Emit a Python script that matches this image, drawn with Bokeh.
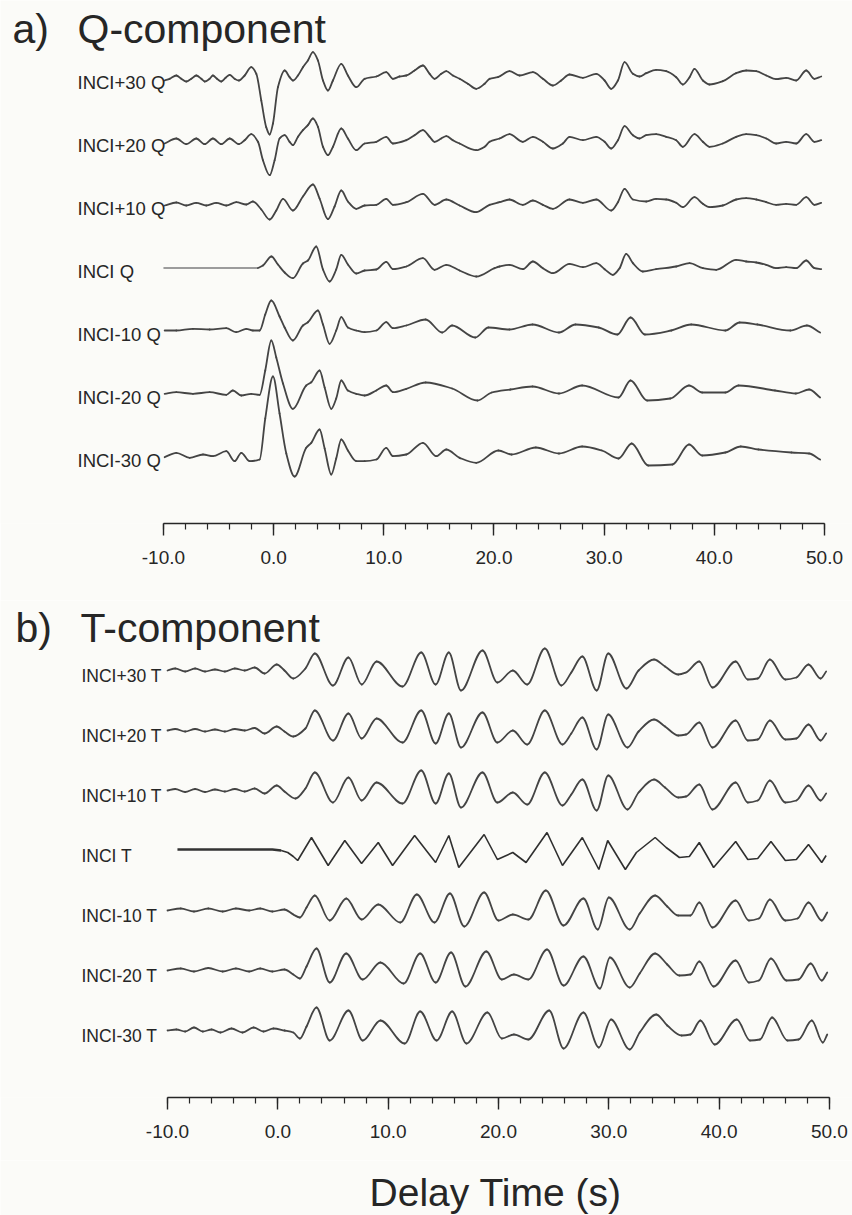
from bokeh.plotting import figure
from bokeh.models import Range1d, FixedTicker, PrintfTickFormatter
from bokeh.layouts import column
from bokeh.embed import file_html
from bokeh.resources import INLINE
from bokeh.core.properties import value

# ---------------- data (time s, relative amplitude) ----------------
Q_LABELS = ["INCI+30 Q", "INCI+20 Q", "INCI+10 Q", "INCI Q", "INCI-10 Q", "INCI-20 Q", "INCI-30 Q"]
T_LABELS = ["INCI+30 T", "INCI+20 T", "INCI+10 T", "INCI T", "INCI-10 T", "INCI-20 T", "INCI-30 T"]
TICKS = [-10, 0, 10, 20, 30, 40, 50]
MINOR_TICKS = [-10, -8, -6, -4, -2, 0, 2, 4, 6, 8, 10, 12, 14, 16, 18, 20, 22, 24, 26, 28, 30,
               32, 34, 36, 38, 40, 42, 44, 46, 48, 50]

Q_P30 = [(-9.89,0),(-9.44,1.7),(-8.83,5),(-8.38,1.7),(-7.93,-1),(-7.47,1.7),(-7.02,5),(-6.56,1.7),(-6.26,-1),
         (-5.81,1.7),(-5.51,5),(-5.14,1.7),(-4.75,-1),(-4.36,2.7),(-3.99,5.7),(-3.54,1.7),(-3.15,0),(-2.63,5),
         (-2.03,13.3),(-1.57,6.7),(-1.12,-20),(-0.67,-46.7),(-0.36,-54),(-0.06,-43),(0.39,-6.7),(1.0,10),
         (1.45,3.3),(1.75,0),(2.21,5),(2.66,13.3),(3.11,20),(3.57,28.3),(4.02,20),(4.48,0),(4.93,-10),(5.38,0),
         (6.14,16.7),(6.74,5),(7.5,-6.7),(8.26,1.7),(9.32,4),(10.22,8.3),(10.83,1.7),(11.43,4),(12.04,5),
         (12.79,10),(13.55,15),(14.16,6.7),(14.61,1.7),(15.21,6.7),(15.67,9.3),(16.27,5),(16.88,1.7),
         (17.63,-3.3),(18.39,-8.3),(19.15,-3.3),(19.6,1.7),(20.36,3.3),(21.41,9.3),(22.32,5),(23.53,8.3),
         (24.44,1.7),(25.35,-5),(26.1,0),(26.86,6),(28.07,2.7),(29.28,6.7),(30.04,0),(30.64,-8.3),(31.25,0),
         (31.85,18.3),(32.61,6.7),(33.21,4),(33.82,7.3),(34.72,10.7),(35.63,9.3),(36.54,3.3),(37.14,-4),
         (37.75,3.3),(38.2,11.7),(38.96,0),(39.56,-4),(40.77,-0.7),(41.98,7.3),(42.89,10),(43.8,9.3),
         (44.71,5),(45.61,1.3),(46.52,2.7),(47.43,0),(48.34,10),(49.09,1.7),(49.7,4)]
Q_P20 = [(-9.89,0),(-8.83,5),(-7.93,-0.7),(-7.02,5),(-6.26,-0.7),(-5.51,5),(-4.75,-0.7),(-3.99,5),(-3.15,-0.7),
         (-2.63,3.3),(-2.03,9.3),(-1.42,1.7),(-0.97,-16.7),(-0.36,-31.7),(0.09,-16.7),(0.54,5),(1.0,8.3),
         (1.45,1.7),(1.75,-1.7),(2.21,6.7),(2.66,13.3),(3.11,18.3),(3.57,25),(4.02,16.7),(4.48,-3.3),
         (4.93,-11.7),(5.38,-3.3),(6.14,15),(6.74,5),(7.5,-6.7),(8.26,0),(9.32,1.7),(10.22,6.7),(10.83,0),
         (12.04,3.3),(12.79,8.3),(13.55,13.3),(14.16,6.7),(14.61,1.7),(15.21,5),(15.67,7.3),(16.27,3.3),
         (16.88,0),(18.39,-6.7),(19.15,-3.3),(19.6,1.7),(20.51,5),(21.41,9.3),(22.62,1.7),(23.53,6.7),
         (24.44,1.7),(25.35,-5),(26.25,0),(26.86,6.7),(28.07,3.3),(29.28,6.7),(30.04,1.7),(30.64,-5),
         (31.25,3.3),(31.85,17.3),(32.61,8.3),(33.21,5),(33.82,8.3),(34.72,9.3),(35.63,6.7),(36.54,3.3),
         (37.14,-3.3),(38.2,9.3),(38.96,1.7),(39.56,-3.3),(40.77,0),(41.98,6.7),(42.89,9.3),(43.8,8.3),
         (44.71,5),(45.61,0),(46.52,1.7),(47.43,0),(48.34,9.3),(49.09,1.7),(49.7,3.3)]
Q_P10 = [(-9.89,1),(-8.83,4),(-7.93,1),(-7.02,3.7),(-6.11,1),(-5.2,3.7),(-4.3,1),(-3.39,4.3),(-2.48,2),
         (-1.88,5),(-1.12,-3),(-0.36,-13),(0.24,-4),(0.85,7.7),(1.75,-4),(2.66,10),(3.57,22),(4.17,8),
         (4.93,-12.7),(5.53,0),(6.14,16),(6.74,5),(7.5,-2.3),(8.26,1),(9.32,1.7),(10.22,7.7),(10.83,1.7),
         (12.04,4.3),(13.55,12.7),(14.61,1.7),(15.67,7),(16.88,1),(18.39,-5.7),(19.6,1.7),(20.51,4.3),
         (21.41,7),(22.62,1.7),(23.53,6),(24.44,1.7),(25.35,-2.3),(26.86,7),(28.07,3.7),(29.28,7),
         (30.64,-4),(31.25,4.3),(31.85,17.7),(32.61,7),(33.82,5),(34.72,7.7),(35.63,7),(36.54,3.7),
         (37.14,-0.7),(38.2,9.3),(38.96,2.7),(39.56,-0.7),(40.77,1),(41.98,7),(42.89,8.3),(43.8,7),
         (44.71,4.3),(45.61,1.7),(46.52,2.7),(47.43,1.7),(48.34,9.3),(49.09,1.7),(49.7,3.7)]
Q_0 = [(-10.0,1.5),(-1.42,1.5),(-0.97,4),(-0.2,13),(0.39,5),(1.0,-3),(1.75,-8.7),(2.66,6),(3.11,9),(3.87,23),
       (4.48,0),(5.08,-12),(5.68,0),(6.14,14.7),(6.74,5),(7.5,-4),(8.26,-1),(9.32,0),(10.22,7.7),(10.83,0.3),
       (12.04,3),(13.55,11.3),(14.61,-0.3),(15.67,4.7),(16.88,-1),(18.39,-7),(20.05,1.3),(20.51,3),(21.41,4.7),
       (22.62,0.3),(23.53,8),(24.44,1.3),(25.35,-3.7),(26.86,5.7),(28.07,2.3),(29.28,6.3),(30.04,0.3),
       (30.79,-5.3),(31.4,1.3),(32.0,15.7),(32.61,6.3),(33.51,-2),(34.72,0.3),(36.54,3),(37.75,6.3),
       (38.96,1.3),(40.17,-0.3),(41.98,9.7),(42.89,8),(43.8,7),(44.71,4.7),(45.61,1.3),(46.52,2.3),
       (47.43,1.3),(48.34,9),(49.09,1.3),(49.7,0.3)]
Q_M10 = [(-9.89,2),(-8.83,2),(-7.32,3.7),(-5.81,3),(-4.3,4.3),(-3.39,0.3),(-2.48,3.7),(-1.88,2),(-1.27,2),
         (-0.76,18),(-0.21,32),(0.54,16),(1.0,5),(1.75,-8),(2.66,7),(3.11,10.3),(4.02,22),(4.48,8),
         (5.08,-11.3),(5.68,2),(6.14,15.3),(6.74,5),(7.5,2),(8.26,0.3),(9.32,2),(10.22,10.3),(10.83,4.3),
         (12.04,7),(13.8,13),(15.3,0),(16.2,7),(18.3,-5),(19.5,5),(21.4,3),(23.5,8),(25.9,0),(27.4,8),
         (29.5,5),(31.2,-2),(32.4,15),(33.7,-2),(36.1,2),(37.9,8),(41.0,2),(42.3,10),(43.9,8),(46.9,2),
         (48.4,7),(49.6,0)]
Q_M20 = [(-9.89,1.7),(-8.83,3.3),(-7.32,1.7),(-5.81,3.3),(-4.3,0.7),(-3.7,5),(-2.93,0),(-2.03,1.7),
         (-1.27,0.7),(-0.76,25),(-0.21,55),(0.24,38),(0.85,12),(1.75,-13.3),(2.96,10),(3.42,13.3),(4.17,25),
         (4.63,8),(5.23,-13.3),(5.68,-3),(6.14,15),(6.74,5),(7.5,1.7),(8.26,0),(9.32,5),(10.22,10),
         (10.83,3.3),(12.04,6.7),(13.8,13),(16.2,7),(18.5,-5),(19.8,3),(21.5,6),(23.5,9),(25.9,2),(28.0,10),
         (31.3,-2),(32.4,15),(33.9,-5),(36.0,-3),(37.7,10),(38.9,3),(41.0,3),(42.2,10),(45.5,5),(47.4,2),
         (48.6,6),(49.6,-2)]
Q_M30 = [(-9.89,1.3),(-8.83,5.7),(-7.62,0.7),(-6.41,4),(-5.51,2.3),(-4.3,7.3),(-3.54,-2.7),(-2.93,5.7),
         (-2.18,-2.7),(-1.27,-1),(-0.76,40),(-0.06,82),(0.54,45),(1.15,5),(1.9,-18),(2.96,10.7),(3.42,15.7),
         (4.17,29),(4.63,10),(5.23,-16),(5.68,0),(6.14,19),(6.74,8),(7.5,-2.7),(8.26,-2.7),(9.32,-1),
         (10.22,10.7),(10.83,2.3),(12.04,4),(13.55,15.7),(14.76,2.3),(15.67,9),(16.88,0.7),(18.39,-4.3),
         (20.4,8),(21.6,4),(23.8,11),(25.9,5),(28.0,12),(29.8,8),(31.3,0),(32.5,15),(34.0,-7),(36.2,-6),
         (37.7,14),(38.9,3),(41.0,6),(42.4,12),(44.0,9),(47.0,6),(48.6,5),(49.6,-1)]

T_P30 = [(-10.0,0),(-9.3,2),(-8.4,-1),(-7.5,2),(-6.6,-1),(-5.7,1),(-4.8,-1),(-3.9,2),(-3.0,0),(-2.1,3),
         (-1.2,-3),(-0.1,6),(0.6,0),(1.4,-8),(2.5,2),(3.35,17),(5.0,-15),(6.4,13),(7.6,-14),(8.95,9),
         (11.3,-16),(13.0,18),(14.3,-14),(15.5,18),(16.6,-20),(18.55,20),(19.9,-12),(21.3,0),(22.6,-14),
         (24.2,22),(25.7,-15),(26.6,-2),(27.6,14),(28.9,-20),(29.95,17),(31.6,-18),(32.7,0),(34.1,11),
         (35.1,4),(36.3,-4),(37.0,-2),(38.2,9),(39.4,-17),(41.5,9),(42.6,-9),(43.5,-8),(44.6,11),(46.0,-9),
         (47.0,-7),(48.1,6),(49.2,-8),(49.7,-1)]
T_P20 = [(-10.0,0),(-9.3,1.5),(-8.4,-1),(-7.5,1.5),(-6.6,-1),(-5.7,1),(-4.8,-1),(-3.9,1.5),(-3.0,0),
         (-2.1,2.5),(-1.2,-3),(-0.1,4),(0.6,-1),(1.4,-6),(2.5,2),(3.35,20),(5.0,-10),(6.4,17),(7.6,-8),
         (8.95,12),(11.3,-12),(13.0,20),(14.3,-13),(15.5,17),(16.6,-17),(18.55,18),(19.9,-12),(21.3,0),
         (22.6,-14),(24.2,20),(25.8,-14),(26.6,-3),(27.6,13),(28.9,-19),(29.95,16),(31.7,-17),(32.7,-1),
         (34.1,11),(35.1,4),(36.3,-5),(37.0,-4),(38.2,8),(39.4,-17),(41.5,10),(42.6,-10),(43.5,-9),
         (44.6,10),(46.0,-9),(47.0,-8),(48.1,6),(49.2,-10),(49.7,-3)]
T_P10 = [(-10.0,0),(-9.3,1.5),(-8.4,-1.5),(-7.5,1.5),(-6.6,-1.5),(-5.7,1),(-4.8,-1),(-3.9,1.5),(-3.0,-1),
         (-2.1,2),(-1.2,-3),(-0.1,5),(0.6,-1),(1.6,-8),(2.5,2),(3.35,18),(5.0,-12),(6.4,13),(7.6,-10),
         (8.95,8),(11.3,-13),(13.0,20),(14.3,-13),(15.5,17),(16.6,-17),(18.55,18),(19.9,-12),(21.3,-2),
         (22.6,-14),(24.2,18),(25.8,-15),(26.6,-4),(27.6,11),(28.9,-20),(29.95,15),(31.7,-19),(32.7,-2),
         (34.1,11),(35.1,3),(36.3,-7),(37.0,-6),(38.2,6),(39.4,-19),(41.5,8),(42.6,-12),(43.5,-10),
         (44.6,10),(46.0,-12),(47.0,-10),(48.1,5),(49.2,-10),(49.7,-3)]
T_0 = [(-9.1,1),(-0.5,1),(0.3,0),(0.9,-2),(1.4,-6),(1.8,-10),(3.05,13),(4.56,-15),(6.07,10),(7.59,-13),
       (9.1,8),(10.4,-15),(12.4,15),(14.3,-12),(15.5,15),(16.4,-17),(18.7,16),(19.9,-9),(21.3,-2),
       (22.5,-12),(24.4,18),(25.8,-15),(27.6,13),(29.1,-19),(29.9,10),(31.5,-19),(32.5,-2),(34.2,13),
       (35.2,3),(36.4,-7),(37.3,-6),(38.2,8),(39.5,-17),(41.5,9),(42.6,-9),(43.5,-8),(44.7,9),(46.0,-10),
       (47.0,-9),(48.1,6),(49.3,-12),(49.7,-5)]
T_M10 = [(-10.0,0),(-8.8,2),(-7.6,-1),(-6.3,2),(-5.0,-1),(-3.8,2),(-2.6,0),(-1.6,2),(-0.5,-1),(0.6,1),
         (1.4,-4),(2.0,-7),(2.6,3),(3.35,15),(4.7,-10),(6.2,12),(7.6,-9),(9.1,6),(11.1,-12),(12.6,16),
         (14.2,-12),(15.6,17),(16.9,-16),(18.7,18),(20.0,-10),(21.3,-4),(22.7,-9),(24.3,20),(25.9,-15),
         (27.7,12),(29.0,-19),(30.0,13),(31.9,-19),(32.8,-3),(34.2,15),(35.3,4),(36.3,-5),(37.4,-5),
         (38.2,8),(39.4,-17),(41.5,10),(42.7,-10),(43.6,-8),(44.6,11),(46.0,-10),(47.1,-8),(48.1,8),
         (49.3,-10),(49.8,-2)]
T_M20 = [(-10.0,0),(-8.8,2),(-7.6,-1),(-6.3,2.5),(-5.0,-1),(-3.8,2),(-2.6,-1),(-1.6,2),(-0.5,-1),(0.6,1),
         (1.4,-4),(2.0,-8),(2.6,4),(3.5,22),(4.7,-12),(6.2,17),(7.7,-9),(9.3,8),(11.4,-13),(12.9,17),
         (14.3,-12),(15.7,18),(17.0,-16),(18.9,19),(20.3,-9),(21.4,-4),(22.7,-9),(24.4,21),(25.9,-15),
         (27.7,14),(29.2,-18),(30.1,13),(31.9,-17),(32.8,-3),(34.2,17),(35.3,6),(36.4,-5),(37.4,-4),
         (38.2,9),(39.5,-16),(41.5,10),(42.7,-12),(43.6,-10),(44.7,12),(46.1,-10),(47.2,-9),(48.3,7),
         (49.3,-10),(49.8,-2)]
T_M30 = [(-10.0,0),(-9.2,1),(-8.4,-1),(-7.6,3),(-6.8,-1),(-6.0,1),(-5.2,-2),(-4.2,2),(-3.2,-2),(-2.2,3),
         (-1.3,-1),(-0.4,2),(0.6,0),(1.4,-2),(2.0,-8),(2.6,4),(3.5,23),(4.7,-10),(6.4,20),(7.7,-10),
         (9.3,10),(11.5,-13),(12.9,19),(14.4,-10),(15.8,19),(17.1,-13),(19.0,18),(20.3,-8),(21.4,-4),
         (22.7,-9),(24.6,20),(25.9,-18),(27.7,18),(29.1,-17),(30.2,11),(31.9,-19),(32.8,-2),(34.3,16),
         (35.3,5),(36.6,-5),(37.4,-4),(38.3,10),(39.6,-14),(41.6,11),(42.8,-10),(43.7,-9),(44.8,13),
         (46.2,-10),(47.2,-9),(48.4,10),(49.4,-12),(49.8,-4)]

Q_TRACES = [Q_P30, Q_P20, Q_P10, Q_0, Q_M10, Q_M20, Q_M30]
T_TRACES = [T_P30, T_P20, T_P10, T_0, T_M10, T_M20, T_M30]

# ---------------- layout / style ----------------
BG = "#fbfbf8"
INK = "#262626"
TRACE = "#444444"
FONT = "Liberation Sans"
Q_SPACING = 63
T_SPACING = 60


def smooth_segments(ts, ys):
    """Shape-preserving cubic (PCHIP) Bezier segments through the read points."""
    n = len(ts)
    h = [ts[i + 1] - ts[i] for i in range(n - 1)]
    d = [(ys[i + 1] - ys[i]) / h[i] for i in range(n - 1)]
    m = [0.0] * n
    m[0] = d[0]
    m[-1] = d[-1]
    for i in range(1, n - 1):
        if d[i - 1] * d[i] <= 0:
            m[i] = 0.0
        else:
            w1 = 2 * h[i] + h[i - 1]
            w2 = h[i] + 2 * h[i - 1]
            m[i] = (w1 + w2) / (w1 / d[i - 1] + w2 / d[i])
    seg = dict(x0=[], y0=[], x1=[], y1=[], cx0=[], cy0=[], cx1=[], cy1=[])
    for i in range(n - 1):
        seg["x0"].append(ts[i]); seg["y0"].append(ys[i])
        seg["x1"].append(ts[i + 1]); seg["y1"].append(ys[i + 1])
        seg["cx0"].append(ts[i] + h[i] / 3); seg["cy0"].append(ys[i] + m[i] * h[i] / 3)
        seg["cx1"].append(ts[i + 1] - h[i] / 3); seg["cy1"].append(ys[i + 1] - m[i + 1] * h[i] / 3)
    return seg


def draw_trace(p, ts, ys, color, width):
    seg = smooth_segments(ts, ys)
    p.bezier(source=seg, x0="x0", y0="y0", x1="x1", y1="y1", cx0="cx0", cy0="cy0",
             cx1="cx1", cy1="cy1", line_color=color, line_width=width, line_cap="round")


def style_axis(p):
    ax = p.xaxis[0]
    ax.bounds = (-10, 50)
    ax.ticker = FixedTicker(ticks=TICKS, minor_ticks=MINOR_TICKS)
    ax.formatter = PrintfTickFormatter(format="%.1f")
    ax.major_tick_in = 0
    ax.major_tick_out = 12
    ax.minor_tick_in = 0
    ax.minor_tick_out = 6
    ax.axis_line_color = INK
    ax.axis_line_width = 1.4
    ax.major_tick_line_color = INK
    ax.major_tick_line_width = 1.4
    ax.minor_tick_line_color = INK
    ax.minor_tick_line_width = 1.2
    ax.major_label_text_font = FONT
    ax.major_label_text_font_size = "19px"
    ax.major_label_text_color = INK
    ax.major_label_standoff = 15


def make_fig(height, x0, x1, y0, y1, bottom, axis=True):
    p = figure(width=852, height=height, x_range=Range1d(x0, x1), y_range=Range1d(y0, y1),
               output_backend="svg", toolbar_location=None, y_axis_location=None,
               x_axis_location="below" if axis else None,
               background_fill_color=BG, border_fill_color=BG, outline_line_color=None)
    p.min_border_left = 0
    p.min_border_right = 0
    p.min_border_top = 0
    p.min_border_bottom = bottom
    p.xgrid.visible = False
    p.ygrid.visible = False
    if axis:
        style_axis(p)
    return p


def title(p, x_letter, x_word, y, letter, word):
    p.text(x=[x_letter], y=[y], text=[letter], text_font=value(FONT), text_font_size="41px",
           text_color=INK, text_align="left", text_baseline="middle")
    p.text(x=[x_word], y=[y], text=[word], text_font=value(FONT), text_font_size="41px",
           text_color=INK, text_align="left", text_baseline="middle")


# ---- panel a: Q-component ----
pa = make_fig(600, -24.79, 52.54, -443, 80, 77)
for k, tr in enumerate(Q_TRACES):
    ts = [pt[0] for pt in tr]
    ys = [pt[1] - Q_SPACING * k for pt in tr]
    if k == 3:
        pa.line(ts[:2], ys[:2], line_color="#9c9c9c", line_width=1.8)
        draw_trace(pa, ts[1:], ys[1:], TRACE, 1.8)
    else:
        draw_trace(pa, ts, ys, TRACE, 1.8)
pa.text(x=[-17.8] * 7, y=[-Q_SPACING * k - 2 for k in range(7)], text=Q_LABELS,
        text_font=value(FONT), text_font_size="18.5px", text_color=INK,
        text_align="left", text_baseline="middle")
title(pa, -23.7, -17.8, 52, "a)", "Q-component")

# ---- panel b: T-component ----
pb = make_fig(560, -25.14, 52.09, -427, 70, 63)
for k, tr in enumerate(T_TRACES):
    ts = [pt[0] for pt in tr]
    ys = [pt[1] - T_SPACING * k for pt in tr]
    if k == 3:
        pb.line(ts[:3], ys[:3], line_color="#333333", line_width=2.6)
        pb.line(ts[2:], ys[2:], line_color="#2f2f2f", line_width=1.6)
    else:
        draw_trace(pb, ts, ys, TRACE, 1.8)
pb.text(x=[-17.8] * 7, y=[-T_SPACING * k - 5 for k in range(7)], text=T_LABELS,
        text_font=value(FONT), text_font_size="17.5px", text_color=INK,
        text_align="left", text_baseline="middle")
title(pb, -23.78, -17.89, 43, "b)", "T-component")

# ---- axis title strip ----
pc = make_fig(55, -25.14, 52.09, 0, 55, 0, axis=False)
pc.text(x=[19.74], y=[23], text=["Delay Time (s)"], text_font=value(FONT), text_font_size="39px",
        text_color=INK, text_align="center", text_baseline="middle")

layout = column(pa, pb, pc, spacing=0)
open("out.html", "w").write(file_html(layout, INLINE))
